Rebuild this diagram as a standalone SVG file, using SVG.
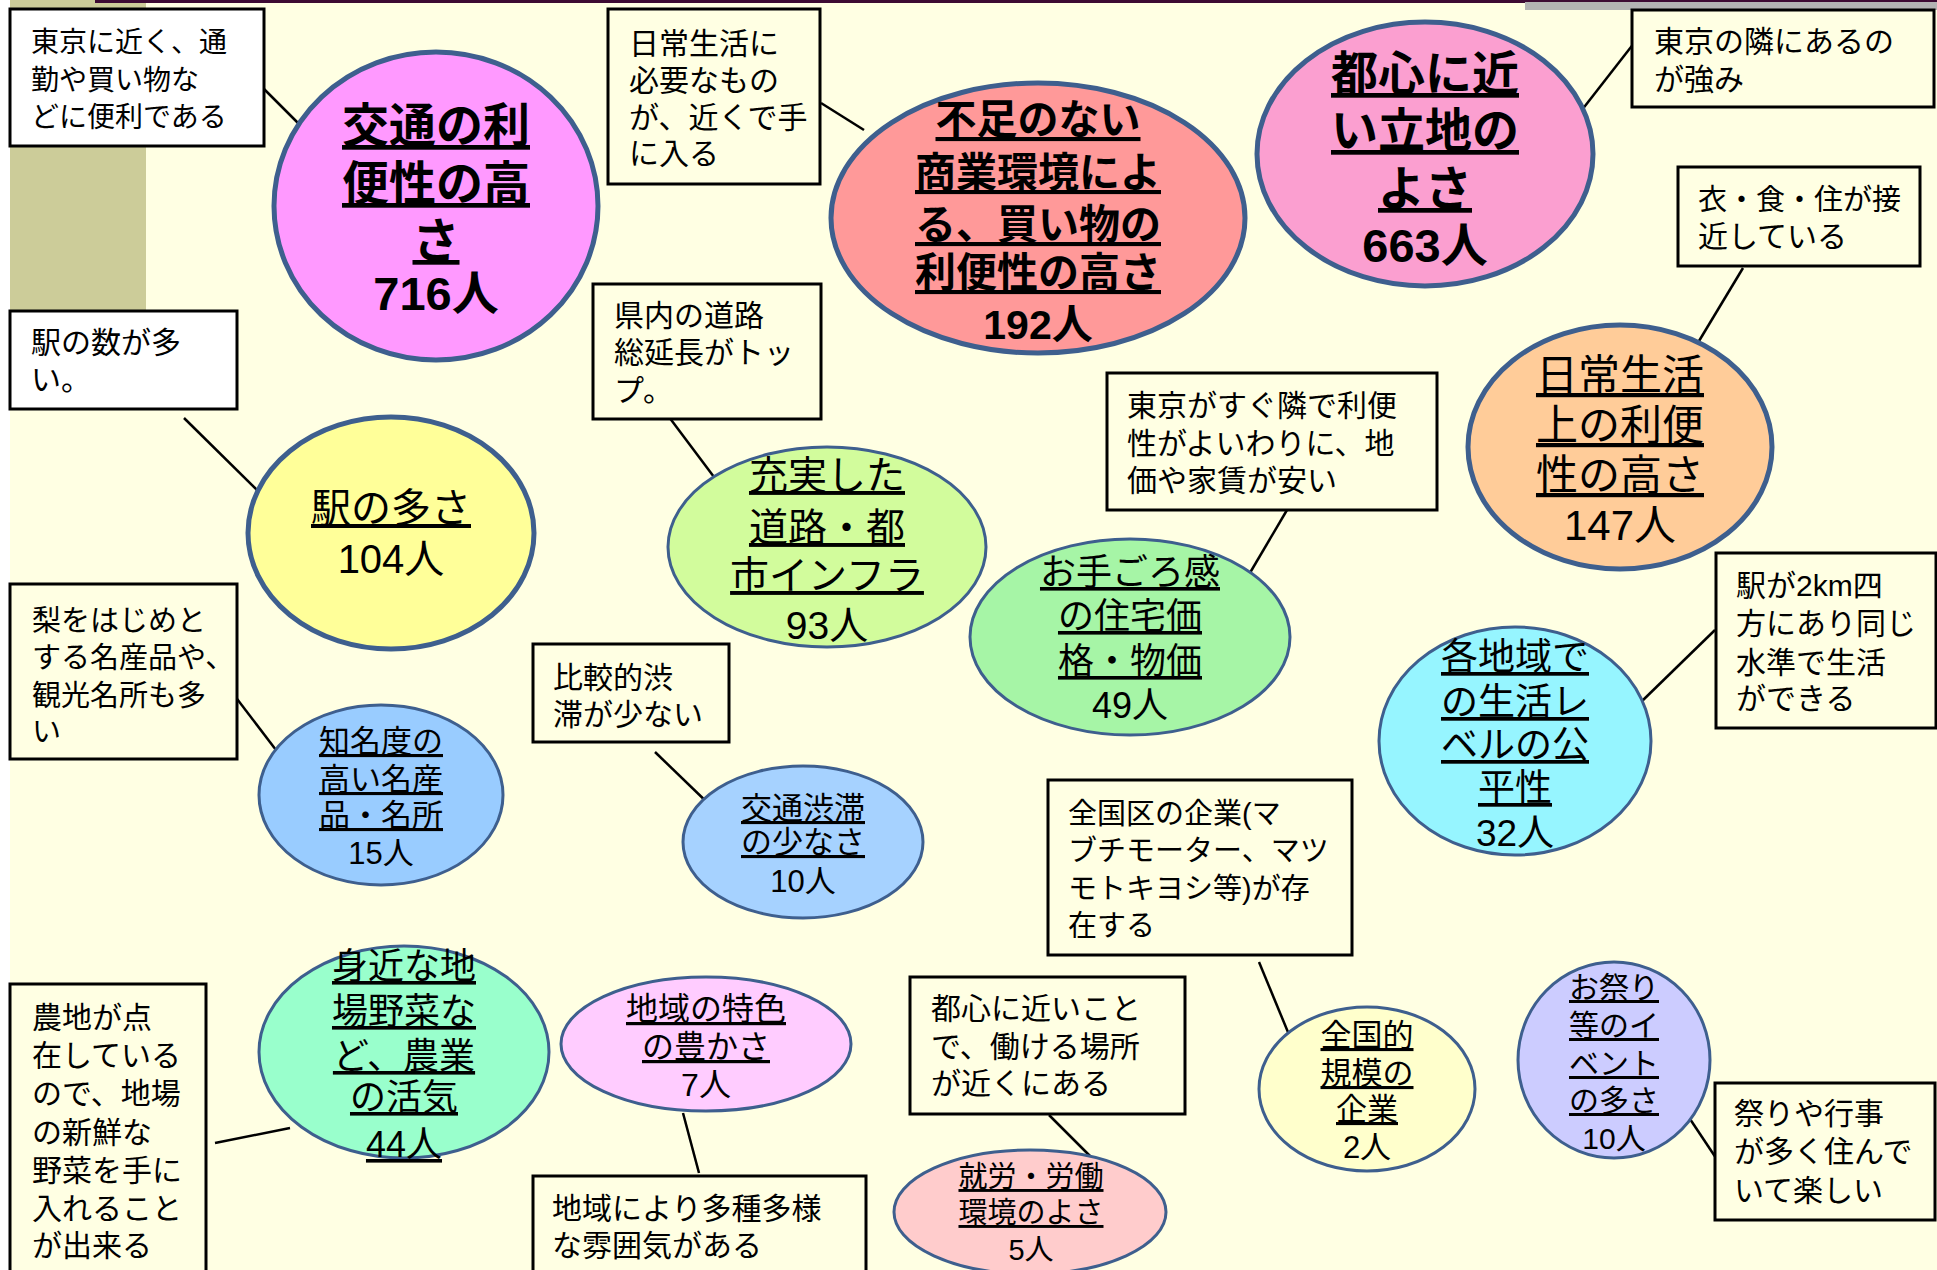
<svg xmlns="http://www.w3.org/2000/svg" width="1937" height="1270" viewBox="0 0 1937 1270">
<style>
.bg{fill:#FFFFE3}
.box{fill:#FFFFE3;stroke:#000;stroke-width:3}
.w{fill:#FFFFFF}
.lnk{stroke:#000;stroke-width:2.5;fill:none}
.n{stroke:#3E5F8E;stroke-width:3}
.k{stroke-width:5}
text{font-family:"Liberation Sans","Noto Sans CJK JP",sans-serif;fill:#000}
.t{text-anchor:middle}
.b{font-weight:bold}
.u{text-decoration:underline}
.c{font-size:30px}
</style>
<rect x="0" y="0" width="1937" height="1270" fill="#FFFFFF"/>
<rect class="bg" x="10" y="0" width="1927" height="1270"/>
<rect x="10" y="0" width="136" height="310" fill="#CCCC99"/>
<rect x="95" y="0" width="1430" height="3" fill="#3D0A33"/>
<rect x="1525" y="0" width="412" height="10" fill="#B3B3B3"/>
<rect x="1525" y="0" width="412" height="2" fill="#3D0A33"/>

<g id="connectors">
<line class="lnk" x1="260" y1="85" x2="305" y2="130"/>
<line class="lnk" x1="821" y1="103" x2="864" y2="130"/>
<line class="lnk" x1="1638" y1="38" x2="1578" y2="115"/>
<line class="lnk" x1="1743" y1="268" x2="1699" y2="341"/>
<line class="lnk" x1="184" y1="418" x2="259" y2="492"/>
<line class="lnk" x1="669" y1="417" x2="714" y2="477"/>
<line class="lnk" x1="1287" y1="510" x2="1244" y2="583"/>
<line class="lnk" x1="1715" y1="630" x2="1640" y2="703"/>
<line class="lnk" x1="231" y1="691" x2="276" y2="750"/>
<line class="lnk" x1="655" y1="752" x2="714" y2="809"/>
<line class="lnk" x1="1259" y1="962" x2="1290" y2="1037"/>
<line class="lnk" x1="1049" y1="1115" x2="1091" y2="1157"/>
<line class="lnk" x1="1686" y1="1113" x2="1716" y2="1158"/>
<line class="lnk" x1="215" y1="1143" x2="290" y2="1128"/>
<line class="lnk" x1="683" y1="1113" x2="699" y2="1173"/>
</g>

<g id="note-tokyo-near">
<rect class="box w" x="10" y="9" width="254" height="137"/>
<text x="31" y="52" style="font-size:28px">東京に近く、通</text>
<text x="31" y="90" style="font-size:28px">勤や買い物な</text>
<text x="31" y="127" style="font-size:28px">どに便利である</text>
</g>
<g id="note-daily-needs">
<rect class="box" x="608" y="9" width="212" height="175"/>
<text class="c" x="629" y="54">日常生活に</text>
<text class="c" x="629" y="91">必要なもの</text>
<text class="c" x="629" y="128">が、近くで手</text>
<text class="c" x="629" y="164">に入る</text>
</g>
<g id="note-tokyo-next">
<rect class="box" x="1632" y="10" width="302" height="97"/>
<text class="c" x="1654" y="52">東京の隣にあるの</text>
<text class="c" x="1654" y="90">が強み</text>
</g>
<g id="note-clothing">
<rect class="box" x="1678" y="167" width="242" height="99"/>
<text x="1698" y="210" style="font-size:29px">衣・食・住が接</text>
<text class="c" x="1698" y="247">近している</text>
</g>
<g id="note-stations">
<rect class="box w" x="10" y="311" width="227" height="98"/>
<text class="c" x="31" y="353">駅の数が多</text>
<text class="c" x="31" y="390">い。</text>
</g>
<g id="note-roads">
<rect class="box" x="593" y="284" width="228" height="135"/>
<text class="c" x="614" y="326">県内の道路</text>
<text class="c" x="614" y="363">総延長がトッ</text>
<text class="c" x="614" y="401">プ。</text>
</g>
<g id="note-cheap">
<rect class="box" x="1107" y="373" width="330" height="137"/>
<text class="c" x="1127" y="416">東京がすぐ隣で利便</text>
<text class="c" x="1127" y="454">性がよいわりに、地</text>
<text class="c" x="1127" y="491">価や家賃が安い</text>
</g>
<g id="note-2km">
<rect class="box" x="1716" y="553" width="220" height="175"/>
<text class="c" x="1736" y="596">駅が2km四</text>
<text class="c" x="1736" y="634">方にあり同じ</text>
<text class="c" x="1736" y="673">水準で生活</text>
<text class="c" x="1736" y="709">ができる</text>
</g>
<g id="note-pear">
<rect class="box" x="10" y="584" width="227" height="175"/>
<text x="32" y="631" style="font-size:29px">梨をはじめと</text>
<text x="32" y="668" style="font-size:29px">する名産品や、</text>
<text x="32" y="706" style="font-size:29px">観光名所も多</text>
<text x="32" y="742" style="font-size:29px">い</text>
</g>
<g id="note-traffic">
<rect class="box" x="533" y="644" width="196" height="98"/>
<text class="c" x="553" y="688">比較的渋</text>
<text class="c" x="553" y="725">滞が少ない</text>
</g>
<g id="note-companies">
<rect class="box" x="1048" y="780" width="304" height="175"/>
<text x="1068" y="824" style="font-size:29px">全国区の企業(マ</text>
<text x="1068" y="861" style="font-size:29px">ブチモーター、マツ</text>
<text x="1068" y="899" style="font-size:29px">モトキヨシ等)が存</text>
<text x="1068" y="936" style="font-size:29px">在する</text>
</g>
<g id="note-work">
<rect class="box" x="910" y="977" width="275" height="137"/>
<text class="c" x="931" y="1019">都心に近いこと</text>
<text class="c" x="931" y="1057">で、働ける場所</text>
<text class="c" x="931" y="1094">が近くにある</text>
</g>
<g id="note-festival">
<rect class="box" x="1715" y="1083" width="220" height="137"/>
<text class="c" x="1734" y="1124">祭りや行事</text>
<text class="c" x="1734" y="1162">が多く住んで</text>
<text class="c" x="1734" y="1201">いて楽しい</text>
</g>
<g id="note-farm">
<rect class="box" x="10" y="984" width="196" height="300"/>
<text class="c" x="32" y="1028">農地が点</text>
<text class="c" x="32" y="1066">在している</text>
<text class="c" x="32" y="1104">ので、地場</text>
<text class="c" x="32" y="1143">の新鮮な</text>
<text class="c" x="32" y="1181">野菜を手に</text>
<text class="c" x="32" y="1219">入れること</text>
<text class="c" x="32" y="1256">が出来る</text>
</g>
<g id="note-variety">
<rect class="box" x="533" y="1176" width="333" height="110"/>
<text class="c" x="552" y="1219">地域により多種多様</text>
<text class="c" x="552" y="1256">な雰囲気がある</text>
</g>

<g id="node-transport">
<ellipse class="n k" cx="436" cy="206" rx="162" ry="154" fill="#FF99FF"/>
<text class="t b" x="436" style="font-size:47px"><tspan class="u" x="436" y="142">交通の利</tspan><tspan class="u" x="436" y="200">便性の高</tspan><tspan class="u" x="436" y="257">さ</tspan><tspan x="436" y="310">716人</tspan></text>
</g>
<g id="node-shopping">
<ellipse class="n k" cx="1038" cy="218" rx="207" ry="135" fill="#FF9999"/>
<text class="t b" style="font-size:41px"><tspan class="u" x="1038" y="134">不足のない</tspan><tspan class="u" x="1038" y="187">商業環境によ</tspan><tspan class="u" x="1038" y="239">る、買い物の</tspan><tspan class="u" x="1038" y="287">利便性の高さ</tspan><tspan x="1038" y="339">192人</tspan></text>
</g>
<g id="node-location">
<ellipse class="n k" cx="1425" cy="154" rx="168" ry="132" fill="#FB9FD0"/>
<text class="t b" style="font-size:47px"><tspan class="u" x="1425" y="90">都心に近</tspan><tspan class="u" x="1425" y="147">い立地の</tspan><tspan class="u" x="1425" y="205">よさ</tspan><tspan x="1425" y="262">663人</tspan></text>
</g>
<g id="node-daily">
<ellipse class="n k" cx="1620" cy="447" rx="152" ry="122" fill="#FFCC99"/>
<text class="t" style="font-size:42px"><tspan class="u" x="1620" y="390">日常生活</tspan><tspan class="u" x="1620" y="440">上の利便</tspan><tspan class="u" x="1620" y="490">性の高さ</tspan><tspan x="1620" y="540">147人</tspan></text>
</g>
<g id="node-stations">
<ellipse class="n k" cx="391" cy="533" rx="143" ry="116" fill="#FFFF99"/>
<text class="t" style="font-size:40px"><tspan class="u" x="391" y="522">駅の多さ</tspan><tspan x="391" y="573">104人</tspan></text>
</g>
<g id="node-infra">
<ellipse class="n" cx="827" cy="547" rx="159" ry="100" fill="#D2FC9C"/>
<text class="t" style="font-size:39px"><tspan class="u" x="827" y="489">充実した</tspan><tspan class="u" x="827" y="541">道路・都</tspan><tspan class="u" x="827" y="589">市インフラ</tspan><tspan x="827" y="639">93人</tspan></text>
</g>
<g id="node-housing">
<ellipse class="n" cx="1130" cy="637" rx="160" ry="98" fill="#A6F5A6"/>
<text class="t" style="font-size:36px"><tspan class="u" x="1130" y="585">お手ごろ感</tspan><tspan class="u" x="1130" y="629">の住宅価</tspan><tspan class="u" x="1130" y="674">格・物価</tspan><tspan x="1130" y="718">49人</tspan></text>
</g>
<g id="node-equality">
<ellipse class="n" cx="1515" cy="741" rx="136" ry="114" fill="#96F5FF"/>
<text class="t" style="font-size:37px"><tspan class="u" x="1515" y="670">各地域で</tspan><tspan class="u" x="1515" y="715">の生活レ</tspan><tspan class="u" x="1515" y="758">ベルの公</tspan><tspan class="u" x="1515" y="801">平性</tspan><tspan x="1515" y="846">32人</tspan></text>
</g>
<g id="node-products">
<ellipse class="n" cx="381" cy="795" rx="122" ry="90" fill="#99CCFF"/>
<text class="t" style="font-size:31px"><tspan class="u" x="381" y="752">知名度の</tspan><tspan class="u" x="381" y="790">高い名産</tspan><tspan class="u" x="381" y="826">品・名所</tspan><tspan x="381" y="864">15人</tspan></text>
</g>
<g id="node-traffic">
<ellipse class="n" cx="803" cy="842" rx="120" ry="76" fill="#A6D2FF"/>
<text class="t" style="font-size:31px"><tspan class="u" x="803" y="819">交通渋滞</tspan><tspan class="u" x="803" y="853">の少なさ</tspan><tspan x="803" y="892">10人</tspan></text>
</g>
<g id="node-farm">
<ellipse class="n" cx="404" cy="1052" rx="145" ry="106" fill="#99FFCC"/>
<text class="t" style="font-size:36px"><tspan class="u" x="404" y="979">身近な地</tspan><tspan class="u" x="404" y="1024">場野菜な</tspan><tspan class="u" x="404" y="1069">ど、農業</tspan><tspan class="u" x="404" y="1110">の活気</tspan><tspan class="u" x="404" y="1157">44人</tspan></text>
</g>
<g id="node-regional">
<ellipse class="n" cx="706" cy="1044" rx="145" ry="67" fill="#FFCCFF"/>
<text class="t" style="font-size:32px"><tspan class="u" x="706" y="1020">地域の特色</tspan><tspan class="u" x="706" y="1058">の豊かさ</tspan><tspan x="706" y="1096">7人</tspan></text>
</g>
<g id="node-work">
<ellipse class="n" cx="1030" cy="1212" rx="136" ry="62" fill="#FFCCCC"/>
<text class="t" style="font-size:29px"><tspan class="u" x="1031" y="1187">就労・労働</tspan><tspan class="u" x="1031" y="1223">環境のよさ</tspan><tspan x="1031" y="1260">5人</tspan></text>
</g>
<g id="node-companies">
<ellipse class="n" cx="1367" cy="1089" rx="108" ry="82" fill="#FFFFCC"/>
<text class="t" style="font-size:31px"><tspan class="u" x="1367" y="1046">全国的</tspan><tspan class="u" x="1367" y="1084">規模の</tspan><tspan class="u" x="1367" y="1120">企業</tspan><tspan x="1367" y="1158">2人</tspan></text>
</g>
<g id="node-festival">
<ellipse class="n" cx="1614" cy="1060" rx="96" ry="98" fill="#CCCCFF"/>
<text class="t" style="font-size:30px"><tspan class="u" x="1614" y="998">お祭り</tspan><tspan class="u" x="1614" y="1036">等のイ</tspan><tspan class="u" x="1614" y="1074">ベント</tspan><tspan class="u" x="1614" y="1111">の多さ</tspan><tspan x="1614" y="1149">10人</tspan></text>
</g>
</svg>
